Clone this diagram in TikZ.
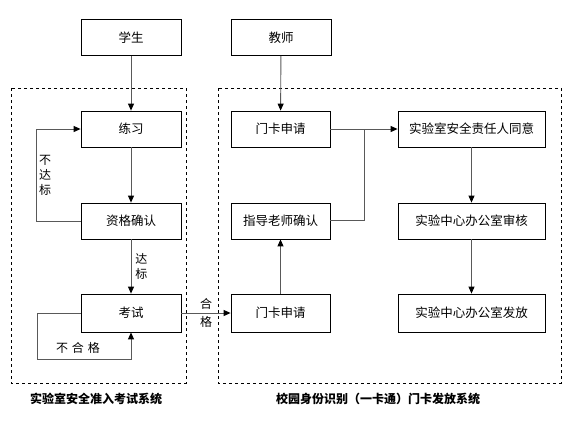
\documentclass[tikz,border=0pt]{standalone}
\usepackage{fontspec}
\setmainfont{Noto Sans CJK SC}
\usetikzlibrary{arrows.meta}
\begin{document}
\begin{tikzpicture}[x=1pt,y=-1pt,
  box/.style={draw=black, line width=0.8pt, minimum height=36pt, inner sep=0pt, font=\fontsize{12.5}{14}\selectfont},
  conn/.style={draw=black!65, line width=0.9pt},
  arr/.style={conn, -{Triangle[length=7pt,width=6pt,fill=black,color=black]}},
  group/.style={draw=black, dashed, line width=0.6pt},
  lab/.style={font=\fontsize{12}{13}\selectfont, inner sep=0pt},
  title/.style={font=\fontsize{12}{13}\selectfont\bfseries, inner sep=0pt}]
\useasboundingbox (0,0) rectangle (575,424);
\draw[group] (11,88) rectangle (186,383);
\draw[group] (218,88) rectangle (561,383);
% nodes
\node[box, minimum width=100pt] (student) at (131,37.5) {学生};
\node[box, minimum width=100pt] (teacher) at (281,37.5) {教师};
\node[box, minimum width=100pt] (prac) at (131,129) {练习};
\node[box, minimum width=100pt] (qual) at (131,221) {资格确认};
\node[box, minimum width=100pt, minimum height=38pt] (exam) at (131,313) {考试};
\node[box, minimum width=99pt] (apply1) at (280.5,129) {门卡申请};
\node[box, minimum width=99pt] (advisor) at (280.5,221) {指导老师确认};
\node[box, minimum width=99pt, minimum height=38pt] (apply2) at (280.5,313) {门卡申请};
\node[box, minimum width=147pt] (resp) at (471.5,129) {实验室安全责任人同意};
\node[box, minimum width=147pt] (audit) at (471.5,221) {实验中心办公室审核};
\node[box, minimum width=147pt, minimum height=38pt] (issue) at (471.5,313) {实验中心办公室发放};
% left connectors
\draw[arr] (student) -- (prac);
\draw[arr] (prac) -- (qual);
\draw[arr] (qual) -- node[lab, right=4pt, align=center]{达\\[2pt]标} (exam);
\coordinate (fb1) at (36,221);
\coordinate (fb2) at (36,129);
\draw[arr] (qual.west) -- (fb1) -- (fb2) -- (prac.west);
\node[lab, align=center] (nodab) at (45,175) {不\\[2pt]达\\[2pt]标};
\coordinate (lp1) at (37,313);
\coordinate (lp2) at (37,359);
\coordinate (lp3) at (131,359);
\draw[arr] (exam.west) -- (lp1) -- (lp2) -- (lp3) -- (exam.south);
\node[lab] (buhege) at (78,348) {不\,\,合\,\,格};
\draw[arr] (exam.east) -- node[lab, above=3pt]{合} node[lab, below=3pt]{格} (apply2.west);
% right connectors
\draw[arr] (teacher) -- (apply1);
\coordinate (jn) at (364,129);
\coordinate (jb) at (364,220);
\draw[arr] (apply1.east) -- (resp.west);
\draw[conn] (advisor.east |- jb) -- (jb) -- (jn);
\draw[arr] (apply2) -- (advisor);
\draw[arr] (resp) -- (audit);
\draw[arr] (audit) -- (issue);
% titles
\node[title] (t1) at (96,399) {实验室安全准入考试系统};
\node[title] (t2) at (378,399) {校园身份识别（一卡通）门卡发放系统};
\end{tikzpicture}
\end{document}
